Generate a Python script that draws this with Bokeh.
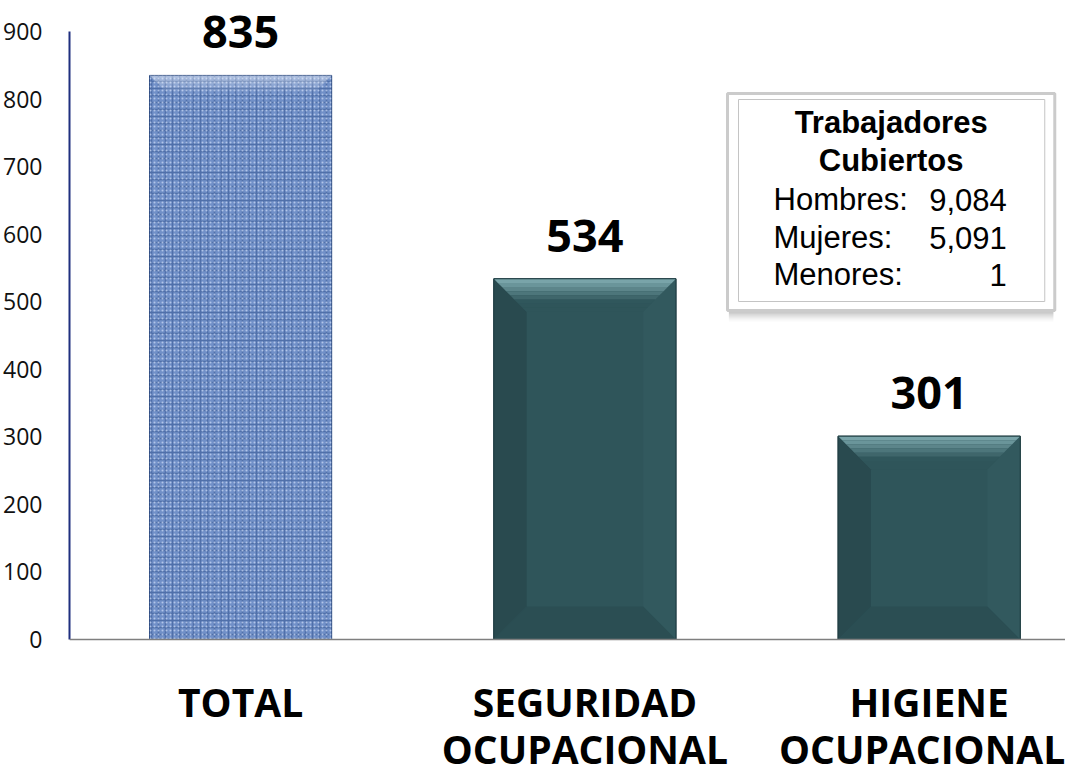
from bokeh.plotting import figure
from bokeh.models import Range1d, FixedTicker, Span
from bokeh.core.properties import value
from bokeh.embed import file_html
from bokeh.resources import INLINE

# ---- data ----
categories = ["TOTAL", "SEGURIDAD\nOCUPACIONAL", "HIGIENE\nOCUPACIONAL"]
values = [835, 534, 301]
y_ticks = [0, 100, 200, 300, 400, 500, 600, 700, 800, 900]
box_title = ["Trabajadores", "Cubiertos"]
box_labels = ["Hombres:", "Mujeres:", "Menores:"]
box_values = ["9,084", "5,091", "1"]

# ---- layout constants ----
W, H = 1065, 778
BL = 64                      # frame left inside the figure
base_fy = 639                # figure y of value 0
k = 608 / 900.0              # px per unit (vertical)
y_top = base_fy / k
y_bot = -(H - base_fy) / k
SX, OX = 0.9942, 6.9         # observed picture-x = OX + SX * figure-x
cat_px = 344.0 / SX
c0 = (241.5 - OX) / SX       # figure x of the first category
x_start = (BL - c0) / cat_px
x_end = x_start + (W - BL) / cat_px
bar_w = 182 / SX / cat_px


def px_x(pic_x):
    return ((pic_x - OX) / SX - c0) / cat_px


def px_y(pic_y):
    return (639 - pic_y) / k


p = figure(width=W, height=H, output_backend="svg", toolbar_location=None,
           x_range=Range1d(x_start, x_end), y_range=Range1d(y_bot, y_top),
           min_border_left=BL, min_border_right=0, min_border_top=0,
           min_border_bottom=0)
p.outline_line_color = None
p.grid.visible = False
p.xaxis.visible = False
p.background_fill_color = "white"
p.border_fill_color = "white"

xs = list(range(len(categories)))
lefts = [x - bar_w / 2 for x in xs]
rights = [x + bar_w / 2 for x in xs]

# baseline
p.add_layout(Span(location=0, dimension="width", line_color="#7f7f7f", line_width=1.5))


def mix(c1, c2, t):
    a = [int(c1[i:i + 2], 16) for i in (1, 3, 5)]
    b = [int(c2[i:i + 2], 16) for i in (1, 3, 5)]
    return "#%02x%02x%02x" % tuple(int(round(a[j] + (b[j] - a[j]) * t)) for j in range(3))


# TOTAL bar: textured blue
p.quad(left=lefts[:1], right=rights[:1], bottom=[0], top=values[:1],
       fill_color="#7190c8", line_color="#2c4a80", line_width=1,
       hatch_pattern="cross", hatch_color="#294985", hatch_alpha=0.45,
       hatch_scale=7, hatch_weight=1.6)
p.quad(left=lefts[:1], right=rights[:1], bottom=[0], top=values[:1],
       fill_alpha=0, line_color=None,
       hatch_pattern="dot", hatch_color="#cddcf6", hatch_alpha=0.7,
       hatch_scale=4, hatch_weight=1.8)
# light top bevel on the textured bar
tdx = 18 / cat_px
tdy = 18 / k
x0, x1, top = lefts[0], rights[0], values[0]
n = 6
for j in range(n):
    t0, t1 = j / n, (j + 1) / n
    ya_, yb_ = top - tdy * t0, top - tdy * t1
    p.patch([x0 + tdx * t0, x1 - tdx * t0, x1 - tdx * t1, x0 + tdx * t1],
            [ya_, ya_, yb_, yb_], fill_color="white",
            fill_alpha=0.45 * (1 - (j + 0.5) / n), line_color=None)

# teal bars with bevel
teal = "#2f555a"
p.quad(left=lefts[1:], right=rights[1:], bottom=[0] * 2, top=values[1:],
       fill_color=teal, line_color="#1f3d42", line_width=1)

dx = 33 / cat_px
dy = 33 / k

for i in (1, 2):
    x0, x1, top = lefts[i], rights[i], values[i]
    p.patch([x0, x0 + dx, x0 + dx, x0], [top, top - dy, dy, 0],
            fill_color="#294a4f", line_color=None)
    p.patch([x1, x1 - dx, x1 - dx, x1], [top, top - dy, dy, 0],
            fill_color="#32595e", line_color=None)
    p.patch([x0, x1, x1 - dx, x0 + dx], [0, 0, dy, dy],
            fill_color="#2b4e53", line_color=None)
    n = 8
    for j in range(n):
        t0, t1 = j / n, (j + 1) / n
        ya_, yb_ = top - dy * t0, top - dy * t1
        p.patch([x0 + dx * t0, x1 - dx * t0, x1 - dx * t1, x0 + dx * t1],
                [ya_, ya_, yb_, yb_],
                fill_color=mix("#80acb1", teal, min(1, (j + 0.5) / (n * 0.7))),
                line_color=None)
    p.quad(left=[x0], right=[x1], bottom=[0], top=[top], fill_alpha=0,
           line_color="#1f3d42", line_width=1)

# value labels
p.text(x=xs, y=values, text=[str(v) for v in values],
       text_font=value("Open Sans"), text_font_style="bold",
       text_font_size="45px", text_color="#000000",
       text_align="center", text_baseline="alphabetic", y_offset=-43)

# category labels (two lines) under the baseline
line1 = [c.split("\n")[0] for c in categories]
line2 = [c.split("\n")[1] if "\n" in c else "" for c in categories]
p.text(x=xs, y=[0] * len(xs), text=line1, text_font=value("Open Sans"),
       text_font_style="bold", text_font_size="39px", text_color="#000000",
       text_align="center", text_baseline="middle", y_offset=62)
p.text(x=xs, y=[0] * len(xs), text=line2, text_font=value("Open Sans"),
       text_font_style="bold", text_font_size="39px", text_color="#000000",
       text_align="center", text_baseline="middle", y_offset=109,
       x_offset=[0, 0, -7])

# ---- info box ----
bx0, bx1 = px_x(728), px_x(1055)
by0, by1 = px_y(310), px_y(93)
for j, a in enumerate([0.10, 0.09, 0.07, 0.05, 0.035]):
    off = (3 + 2 * j) / k
    p.quad(left=[bx0 + 0.004], right=[bx1 - 0.004], bottom=[by0 - off], top=[by1 - off],
           fill_color="#555555", fill_alpha=a, line_color=None)
p.quad(left=[bx0], right=[bx1], bottom=[by0], top=[by1],
       fill_color="white", line_color="#cbcbcb", line_width=3)
p.quad(left=[px_x(739)], right=[px_x(1045)], bottom=[px_y(301)], top=[px_y(99)],
       fill_alpha=0, line_color="#c4c4c4", line_width=1)

cx = (bx0 + bx1) / 2
ty = [px_y(122), px_y(160)]
p.text(x=[cx] * len(box_title), y=ty,
       text=box_title, text_font=value("Liberation Sans"), text_font_style="bold",
       text_font_size="31px", text_color="#000000",
       text_align="center", text_baseline="middle")
ys = [px_y(199), px_y(237), px_y(274)]
p.text(x=[px_x(774)] * len(box_labels), y=ys, text=box_labels,
       text_font=value("Liberation Sans"), text_font_size="31px",
       text_color="#000000", text_align="left", text_baseline="middle")
p.text(x=[px_x(1007)] * len(box_values), y=ys, text=box_values,
       text_font=value("Liberation Sans"), text_font_size="31px",
       text_color="#000000", text_align="right", text_baseline="middle")

# ---- y axis ----
ya = p.yaxis[0]
ya.ticker = FixedTicker(ticks=y_ticks)
ya.bounds = (0, 900)
ya.axis_line_color = "#1f2f7f"
ya.axis_line_width = 2
ya.major_tick_line_color = None
ya.minor_tick_line_color = None
ya.major_tick_out = 0
ya.major_tick_in = 0
ya.major_label_standoff = 27
ya.major_label_text_font = "Open Sans"
ya.major_label_text_font_size = "23px"
ya.major_label_text_color = "#111111"

open("out.html", "w").write(file_html(p, INLINE))
